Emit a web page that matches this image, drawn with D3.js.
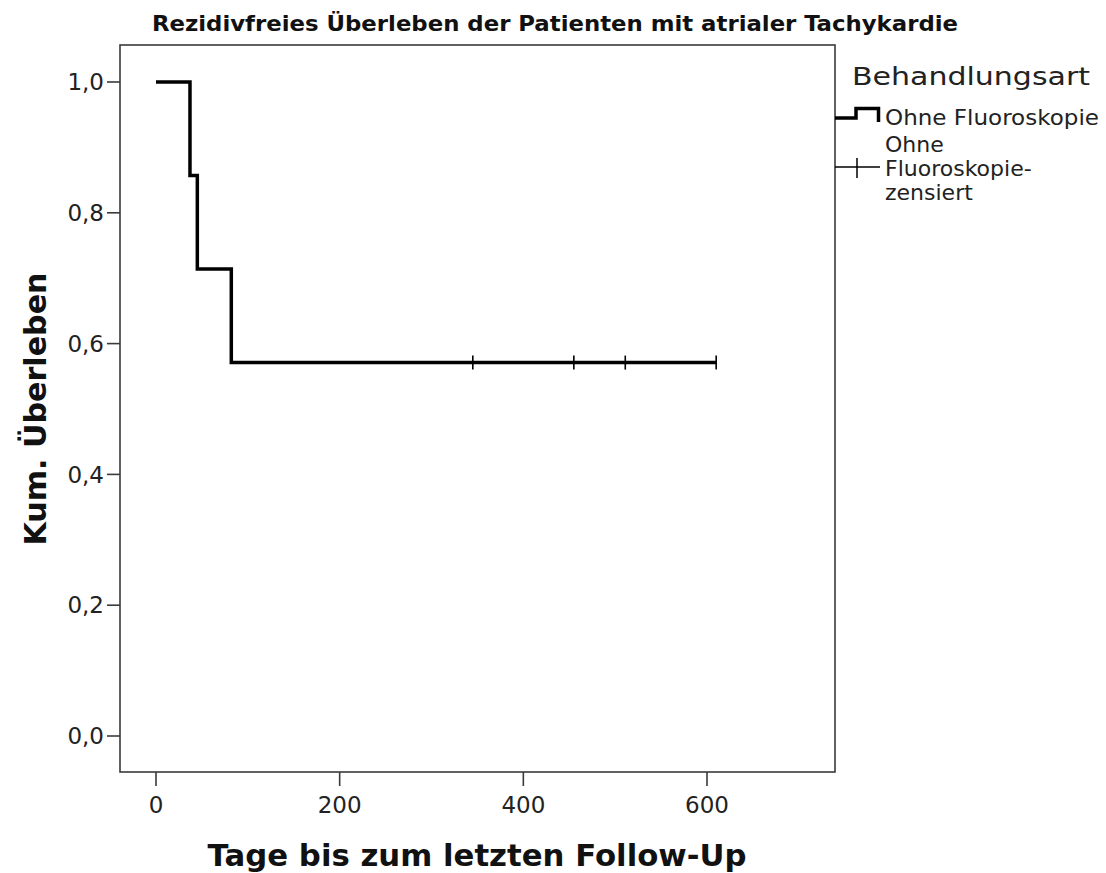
<!DOCTYPE html>
<html><head><meta charset="utf-8">
<script src="https://cdn.jsdelivr.net/npm/d3@7"></script>
<style>body{margin:0;background:#fff}svg{display:block}</style>
</head><body>
<svg id="c" width="1106" height="873"></svg>
<script>
// ---- data ----
const title = "Rezidivfreies Überleben der Patienten mit atrialer Tachykardie";
const xLabel = "Tage bis zum letzten Follow-Up";
const yLabel = "Kum. Überleben";
const legendTitle = "Behandlungsart";
const seriesName = "Ohne Fluoroskopie";
const censorName = ["Ohne", "Fluoroskopie-", "zensiert"];
const stepTimes = [0, 37, 45, 82, 610];
const stepSurv  = [1.0, 0.857, 0.714, 0.571, 0.571];
const censorTimes = [345, 455, 511, 610];
const censorSurv  = [0.571, 0.571, 0.571, 0.571];
const xTicks = [0, 200, 400, 600];
const yTicks = [0.0, 0.2, 0.4, 0.6, 0.8, 1.0];

// ---- layout ----
const svg = d3.select("#c");
const frame = {l:120, r:835, t:45, b:772};
const x = d3.scaleLinear().domain([0, 600]).range([156, 707]);
const y = d3.scaleLinear().domain([0, 1]).range([736, 82]);
const font = "'DejaVu Sans', sans-serif";

// frame
svg.append("rect").attr("x", frame.l).attr("y", frame.t)
  .attr("width", frame.r-frame.l).attr("height", frame.b-frame.t)
  .attr("fill","none").attr("stroke","#3a3a3a").attr("stroke-width",1.6);

// y axis
const ya = svg.append("g");
yTicks.forEach(v=>{
  ya.append("line").attr("x1", frame.l-13).attr("x2", frame.l).attr("y1", y(v)).attr("y2", y(v))
    .attr("stroke","#3a3a3a").attr("stroke-width",1.6);
  ya.append("text").attr("x", frame.l-16).attr("y", y(v)).attr("dy","0.36em")
    .attr("text-anchor","end").attr("font-family",font).attr("font-size",23).attr("fill","#222")
    .text(d3.format(".1f")(v).replace(".",","));
});
// x axis
const xa = svg.append("g");
xTicks.forEach(v=>{
  xa.append("line").attr("x1", x(v)).attr("x2", x(v)).attr("y1", frame.b).attr("y2", frame.b+14)
    .attr("stroke","#3a3a3a").attr("stroke-width",1.6);
  xa.append("text").attr("x", x(v)).attr("y", 813)
    .attr("text-anchor","middle").attr("font-family",font).attr("font-size",23).attr("fill","#222")
    .text(d3.format("d")(v));
});

// titles
svg.append("text").attr("x", 555).attr("y", 31).attr("text-anchor","middle")
  .attr("font-family","'Liberation Sans Narrow', 'DejaVu Sans Condensed', 'DejaVu Sans', sans-serif").attr("font-weight","bold")
  .attr("font-size",22).attr("fill","#111").attr("textLength",806).attr("lengthAdjust","spacingAndGlyphs")
  .text(title);
svg.append("text").attr("x", 477).attr("y", 866).attr("text-anchor","middle")
  .attr("font-family",font).attr("font-weight","bold").attr("font-size",30).attr("fill","#111")
  .attr("textLength",539).attr("lengthAdjust","spacingAndGlyphs")
  .text(xLabel);
svg.append("text").attr("transform","translate(46,409) rotate(-90)").attr("text-anchor","middle")
  .attr("font-family",font).attr("font-weight","bold").attr("font-size",30).attr("fill","#111")
  .attr("textLength",273).attr("lengthAdjust","spacingAndGlyphs")
  .text(yLabel);

// KM curve
const pts = stepTimes.map((t,i)=>[t, stepSurv[i]]);
const line = d3.line().x(d=>x(d[0])).y(d=>y(d[1])).curve(d3.curveStepAfter);
svg.append("path").attr("d", line(pts)).attr("fill","none").attr("stroke","#000")
  .attr("stroke-width",3.5).attr("stroke-linejoin","miter");
// censor marks
svg.selectAll(".cens").data(censorTimes.map((t,i)=>[t,censorSurv[i]])).enter().append("line")
  .attr("x1",d=>x(d[0])).attr("x2",d=>x(d[0])).attr("y1",d=>y(d[1])-7).attr("y2",d=>y(d[1])+7)
  .attr("stroke","#000").attr("stroke-width",1.6);

// legend
const lg = svg.append("g");
lg.append("text").attr("x", 852).attr("y", 85).attr("font-family",font).attr("font-size",25)
  .attr("fill","#222").attr("textLength",238).attr("lengthAdjust","spacingAndGlyphs").text(legendTitle);
lg.append("path").attr("d","M835,118 H856 V108.5 H878.5 V122")
  .attr("fill","none").attr("stroke","#000").attr("stroke-width",3.5);
lg.append("text").attr("x", 885).attr("y", 125).attr("font-family",font).attr("font-size",22)
  .attr("fill","#222").attr("textLength",214).attr("lengthAdjust","spacingAndGlyphs").text(seriesName);
lg.append("line").attr("x1",835).attr("x2",880).attr("y1",167).attr("y2",167).attr("stroke","#000").attr("stroke-width",1.5);
lg.append("line").attr("x1",857).attr("x2",857).attr("y1",158).attr("y2",178).attr("stroke","#000").attr("stroke-width",1.5);
censorName.forEach((s,i)=>{
  lg.append("text").attr("x", 885).attr("y", 152 + i*24).attr("font-family",font).attr("font-size",22)
    .attr("fill","#222").text(s);
});
</script>
</body></html>
